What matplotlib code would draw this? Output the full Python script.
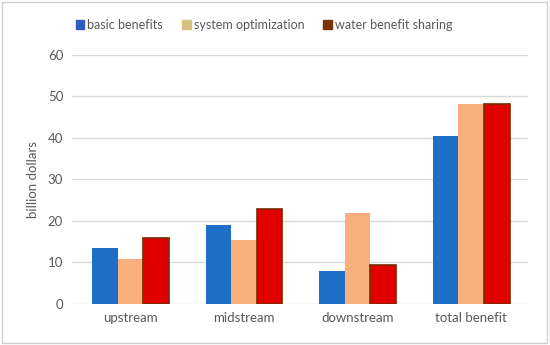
import matplotlib.pyplot as plt
import numpy as np
from matplotlib.patches import Patch, Rectangle

categories = ['upstream', 'midstream', 'downstream', 'total benefit']
basic_benefits = [13.5, 19.0, 8.0, 40.5]
system_optimization = [10.8, 15.4, 22.0, 48.2]
water_benefit_sharing = [15.9, 22.9, 9.4, 48.2]
y_ticks = [0, 10, 20, 30, 40, 50, 60]

text_color = '#595959'
plt.rcParams['font.family'] = ['Lato', 'DejaVu Sans']

fig = plt.figure(figsize=(5.5, 3.45), dpi=100)
ax = fig.add_axes([0.13, 0.119, 0.83, 0.722])

# grey frame around the whole picture
fig.patches.append(Rectangle((0.004, 0.006), 0.99, 0.988, transform=fig.transFigure,
                             fill=False, edgecolor='#d0d0d0', linewidth=1))

x = np.arange(len(categories))
w = 0.225
ax.bar(x - w, basic_benefits, w, color='#1f6fc6', zorder=3)
ax.bar(x, system_optimization, w, color='#f8af7c', zorder=3)
ax.bar(x + w, water_benefit_sharing, w, color='#e00000',
       edgecolor='#7a2a00', linewidth=1.2, zorder=3)

ax.set_xlim(-0.52, 3.5)
ax.set_ylim(0, 60)
ax.set_yticks(y_ticks)
ax.set_xticks(x)
ax.set_xticklabels(categories)
ax.grid(axis='y', color='#d9d9d9', linewidth=1, zorder=0)
for s in ax.spines.values():
    s.set_visible(False)
ax.tick_params(length=0, colors=text_color, labelsize=9.5, pad=6)
ax.set_ylabel('billion dollars', color=text_color, fontsize=9.5, labelpad=6)

handles = [Patch(color='#2e5cbf'), Patch(color='#d8c07e'), Patch(color='#7a3300')]
fig.legend(handles, ['basic benefits', 'system optimization', 'water benefit sharing'],
           loc='center', bbox_to_anchor=(0.48, 0.928), ncol=3, frameon=False,
           fontsize=9, labelcolor=text_color, handlelength=0.7, handleheight=0.7,
           handletextpad=0.25, columnspacing=1.5)

fig.savefig('out.png', dpi=100)
